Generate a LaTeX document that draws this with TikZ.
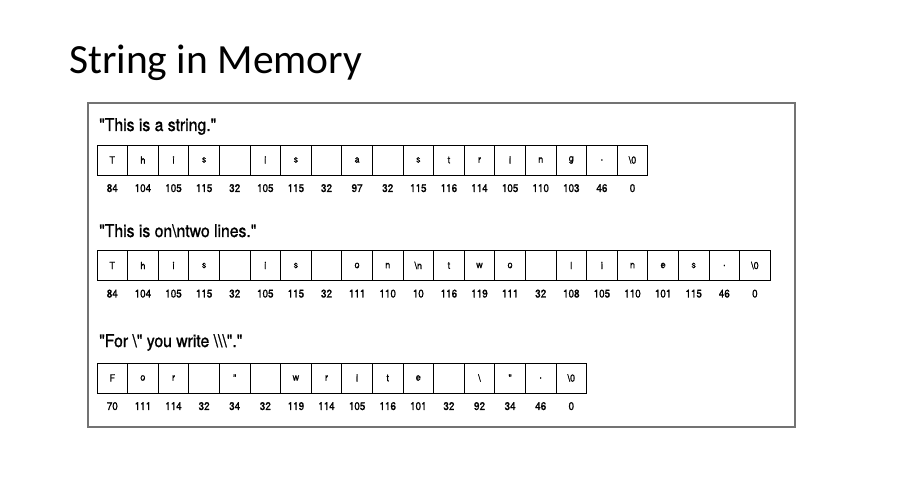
\documentclass[tikz,border=0pt]{standalone}
\usepackage{fontspec}
\setmainfont{Carlito}
\newfontfamily\figfont[FakeStretch=0.9, FakeBold=1.2]{TeX Gyre Heros}
\definecolor{framegray}{RGB}{115,115,115}

\begin{document}
\begin{tikzpicture}[
	cell/.style={draw=black, line width=0.9pt, minimum width=30.6pt, minimum height=30pt, inner sep=0pt, font=\figfont\fontsize{10}{10}\selectfont},
	code/.style={inner sep=0pt, label distance=8.5pt, font=\figfont\fontsize{11}{11}\selectfont},
	strlabel/.style={anchor=base west, inner sep=0pt, font=\figfont\fontsize{17.5}{17.5}\selectfont}
]
	\useasboundingbox (0,0) rectangle (913pt,-478pt);
	\node[anchor=base west, inner sep=0pt, font=\fontsize{41.5}{41.5}\selectfont] (title) at (69pt,-74pt) {String in Memory};
	\draw[framegray, line width=1.2pt] (88pt,-103pt) rectangle (795pt,-427pt);

	% "This is a string."
	\node[strlabel] (lab1) at (99pt,-131pt) {"This is a string."};
	\begin{scope}[shift={(97pt,-160pt)}, x=30.6pt]
		\node[cell, label={[code]below:84}] (a1) at (0.5,0) {T};
		\node[cell, label={[code]below:104}] (a2) at (1.5,0) {h};
		\node[cell, label={[code]below:105}] (a3) at (2.5,0) {i};
		\node[cell, label={[code]below:115}] (a4) at (3.5,0) {s};
		\node[cell, label={[code]below:32}] (a5) at (4.5,0) {};
		\node[cell, label={[code]below:105}] (a6) at (5.5,0) {i};
		\node[cell, label={[code]below:115}] (a7) at (6.5,0) {s};
		\node[cell, label={[code]below:32}] (a8) at (7.5,0) {};
		\node[cell, label={[code]below:97}] (a9) at (8.5,0) {a};
		\node[cell, label={[code]below:32}] (a10) at (9.5,0) {};
		\node[cell, label={[code]below:115}] (a11) at (10.5,0) {s};
		\node[cell, label={[code]below:116}] (a12) at (11.5,0) {t};
		\node[cell, label={[code]below:114}] (a13) at (12.5,0) {r};
		\node[cell, label={[code]below:105}] (a14) at (13.5,0) {i};
		\node[cell, label={[code]below:110}] (a15) at (14.5,0) {n};
		\node[cell, label={[code]below:103}] (a16) at (15.5,0) {g};
		\node[cell, label={[code]below:46}] (a17) at (16.5,0) {.};
		\node[cell, label={[code]below:0}] (a18) at (17.5,0) {\textbackslash 0};
	\end{scope}

	% "This is on\ntwo lines."
	\node[strlabel] (lab2) at (99pt,-237pt) {"This is on\textbackslash ntwo lines."};
	\begin{scope}[shift={(97pt,-265.5pt)}, x=30.6pt]
		\node[cell, label={[code]below:84}] (b1) at (0.5,0) {T};
		\node[cell, label={[code]below:104}] (b2) at (1.5,0) {h};
		\node[cell, label={[code]below:105}] (b3) at (2.5,0) {i};
		\node[cell, label={[code]below:115}] (b4) at (3.5,0) {s};
		\node[cell, label={[code]below:32}] (b5) at (4.5,0) {};
		\node[cell, label={[code]below:105}] (b6) at (5.5,0) {i};
		\node[cell, label={[code]below:115}] (b7) at (6.5,0) {s};
		\node[cell, label={[code]below:32}] (b8) at (7.5,0) {};
		\node[cell, label={[code]below:111}] (b9) at (8.5,0) {o};
		\node[cell, label={[code]below:110}] (b10) at (9.5,0) {n};
		\node[cell, label={[code]below:10}] (b11) at (10.5,0) {\textbackslash n};
		\node[cell, label={[code]below:116}] (b12) at (11.5,0) {t};
		\node[cell, label={[code]below:119}] (b13) at (12.5,0) {w};
		\node[cell, label={[code]below:111}] (b14) at (13.5,0) {o};
		\node[cell, label={[code]below:32}] (b15) at (14.5,0) {};
		\node[cell, label={[code]below:108}] (b16) at (15.5,0) {l};
		\node[cell, label={[code]below:105}] (b17) at (16.5,0) {i};
		\node[cell, label={[code]below:110}] (b18) at (17.5,0) {n};
		\node[cell, label={[code]below:101}] (b19) at (18.5,0) {e};
		\node[cell, label={[code]below:115}] (b20) at (19.5,0) {s};
		\node[cell, label={[code]below:46}] (b21) at (20.5,0) {.};
		\node[cell, label={[code]below:0}] (b22) at (21.5,0) {\textbackslash 0};
	\end{scope}

	% "For \" you write \\\"."
	\node[strlabel] (lab3) at (99pt,-347pt) {"For \textbackslash" you write \textbackslash\textbackslash\textbackslash"."};
	\begin{scope}[shift={(97pt,-378pt)}, x=30.6pt]
		\node[cell, label={[code]below:70}] (c1) at (0.5,0) {F};
		\node[cell, label={[code]below:111}] (c2) at (1.5,0) {o};
		\node[cell, label={[code]below:114}] (c3) at (2.5,0) {r};
		\node[cell, label={[code]below:32}] (c4) at (3.5,0) {};
		\node[cell, label={[code]below:34}] (c5) at (4.5,0) {"};
		\node[cell, label={[code]below:32}] (c6) at (5.5,0) {};
		\node[cell, label={[code]below:119}] (c7) at (6.5,0) {w};
		\node[cell, label={[code]below:114}] (c8) at (7.5,0) {r};
		\node[cell, label={[code]below:105}] (c9) at (8.5,0) {i};
		\node[cell, label={[code]below:116}] (c10) at (9.5,0) {t};
		\node[cell, label={[code]below:101}] (c11) at (10.5,0) {e};
		\node[cell, label={[code]below:32}] (c12) at (11.5,0) {};
		\node[cell, label={[code]below:92}] (c13) at (12.5,0) {\textbackslash};
		\node[cell, label={[code]below:34}] (c14) at (13.5,0) {"};
		\node[cell, label={[code]below:46}] (c15) at (14.5,0) {.};
		\node[cell, label={[code]below:0}] (c16) at (15.5,0) {\textbackslash 0};
	\end{scope}
\end{tikzpicture}
\end{document}
